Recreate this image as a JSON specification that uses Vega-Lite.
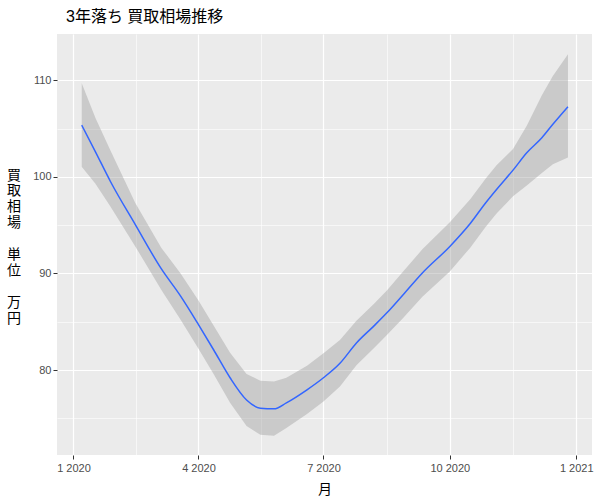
{
  "$schema": "https://vega.github.io/schema/vega-lite/v6.json",
  "autosize": "none",
  "width": 535,
  "height": 421,
  "padding": {"left": 57, "top": 34, "right": 8, "bottom": 45},
  "background": "white",
  "title": {
    "text": "3年落ち 買取相場推移",
    "anchor": "start",
    "frame": "group",
    "fontSize": 16,
    "font": "Liberation Sans, Noto Sans CJK JP",
    "fontWeight": "normal",
    "color": "#000000",
    "offset": 9,
    "dx": 9
  },
  "config": {
    "view": {"fill": "#EBEBEB", "stroke": null},
    "axis": {
      "domain": false,
      "gridColor": "#FFFFFF",
      "tickColor": "#333333",
      "tickSize": 4,
      "labelColor": "#4D4D4D",
      "labelFont": "Liberation Sans",
      "labelFontSize": 11,
      "labelOverlap": false,
      "titleFont": "Liberation Sans, Noto Sans CJK JP",
      "titleFontWeight": "normal",
      "titleColor": "#000000",
      "titleFontSize": 14
    }
  },
  "data": {
    "values": [
      {"d": "2020-01-07", "fit": 105.36, "lo": 101.05, "hi": 109.7},
      {"d": "2020-01-17", "fit": 102.6, "lo": 99.3, "hi": 106.1},
      {"d": "2020-01-28", "fit": 99.5, "lo": 96.9, "hi": 102.7},
      {"d": "2020-02-15", "fit": 95.06, "lo": 92.8, "hi": 97.3},
      {"d": "2020-03-05", "fit": 90.47, "lo": 88.3, "hi": 92.65},
      {"d": "2020-03-19", "fit": 87.65, "lo": 85.2, "hi": 90.0},
      {"d": "2020-04-01", "fit": 84.7, "lo": 82.2, "hi": 87.2},
      {"d": "2020-04-12", "fit": 82.1, "lo": 79.6, "hi": 84.6},
      {"d": "2020-04-24", "fit": 79.2, "lo": 76.6, "hi": 81.8},
      {"d": "2020-05-06", "fit": 76.9, "lo": 74.2, "hi": 79.6},
      {"d": "2020-05-16", "fit": 76.05, "lo": 73.3, "hi": 78.9},
      {"d": "2020-05-26", "fit": 75.98, "lo": 73.2, "hi": 78.8},
      {"d": "2020-06-04", "fit": 76.6, "lo": 74.0, "hi": 79.2},
      {"d": "2020-06-19", "fit": 77.95, "lo": 75.45, "hi": 80.45},
      {"d": "2020-07-01", "fit": 79.2, "lo": 76.75, "hi": 81.75},
      {"d": "2020-07-13", "fit": 80.7, "lo": 78.3, "hi": 83.1},
      {"d": "2020-07-25", "fit": 82.8, "lo": 80.5, "hi": 85.1},
      {"d": "2020-08-07", "fit": 84.6, "lo": 82.3, "hi": 86.9},
      {"d": "2020-08-16", "fit": 85.9, "lo": 83.6, "hi": 88.2},
      {"d": "2020-08-28", "fit": 87.8, "lo": 85.4, "hi": 90.2},
      {"d": "2020-09-11", "fit": 90.05, "lo": 87.6, "hi": 92.5},
      {"d": "2020-10-01", "fit": 92.8, "lo": 90.2, "hi": 95.3},
      {"d": "2020-10-16", "fit": 95.2, "lo": 92.7, "hi": 97.7},
      {"d": "2020-10-27", "fit": 97.3, "lo": 94.8, "hi": 99.8},
      {"d": "2020-11-04", "fit": 98.7, "lo": 96.2, "hi": 101.2},
      {"d": "2020-11-16", "fit": 100.7, "lo": 98.0, "hi": 102.9},
      {"d": "2020-11-26", "fit": 102.5, "lo": 99.1, "hi": 105.3},
      {"d": "2020-12-07", "fit": 104.05, "lo": 100.4, "hi": 108.45},
      {"d": "2020-12-15", "fit": 105.45, "lo": 101.3, "hi": 110.45},
      {"d": "2020-12-26", "fit": 107.27, "lo": 102.0, "hi": 112.7}
    ]
  },
  "encoding": {
    "x": {
      "field": "d",
      "type": "temporal",
      "scale": {
        "type": "utc",
        "domain": [
          {"year": 2019, "month": 12, "date": 20, "utc": true},
          {"year": 2021, "month": 1, "date": 12, "hours": 12, "utc": true}
        ]
      },
      "axis": {
        "title": "月",
        "values": [
          {"year": 2020, "month": 1, "date": 1, "utc": true},
          {"year": 2020, "month": 2, "date": 15, "hours": 12, "utc": true},
          {"year": 2020, "month": 4, "date": 1, "utc": true},
          {"year": 2020, "month": 5, "date": 16, "hours": 12, "utc": true},
          {"year": 2020, "month": 7, "date": 1, "utc": true},
          {"year": 2020, "month": 8, "date": 16, "utc": true},
          {"year": 2020, "month": 10, "date": 1, "utc": true},
          {"year": 2020, "month": 11, "date": 16, "utc": true},
          {"year": 2021, "month": 1, "date": 1, "utc": true}
        ],
        "labelExpr": "utcdate(datum.value) === 1 ? utcFormat(datum.value, '%-m %Y') : ''",
        "gridWidth": {"condition": {"test": "utcdate(datum.value) === 1", "value": 1.2}, "value": 0.6},
        "tickOpacity": {"condition": {"test": "utcdate(datum.value) === 1", "value": 1}, "value": 0},
        "labelPadding": 3,
        "titleBaseline": "middle",
        "titleY": 34
      }
    }
  },
  "layer": [
    {
      "mark": {"type": "area", "color": "#999999", "opacity": 0.4},
      "encoding": {
        "y": {
          "field": "lo",
          "type": "quantitative",
          "scale": {"domain": [71.2, 114.8], "zero": false, "nice": false},
          "axis": {
            "values": [75, 80, 85, 90, 95, 100, 105, 110],
            "labelExpr": "datum.value % 10 === 0 ? datum.label : ''",
            "gridWidth": {"condition": {"test": "datum.value % 10 === 0", "value": 1.2}, "value": 0.6},
            "tickOpacity": {"condition": {"test": "datum.value % 10 === 0", "value": 1}, "value": 0},
            "labelPadding": 2,
            "title": ["買", "取", "相", "場", "⠀", "単", "位", "⠀", "万", "円"],
            "titleAngle": 0,
            "titleAlign": "center",
            "titleBaseline": "middle",
            "titleX": -43.5,
            "titleY": 141,
            "titleLineHeight": 15.9
          }
        },
        "y2": {"field": "hi"}
      }
    },
    {
      "mark": {"type": "line", "color": "#3366FF", "strokeWidth": 1.5, "interpolate": "monotone"},
      "encoding": {
        "y": {"field": "fit", "type": "quantitative"}
      }
    }
  ]
}
